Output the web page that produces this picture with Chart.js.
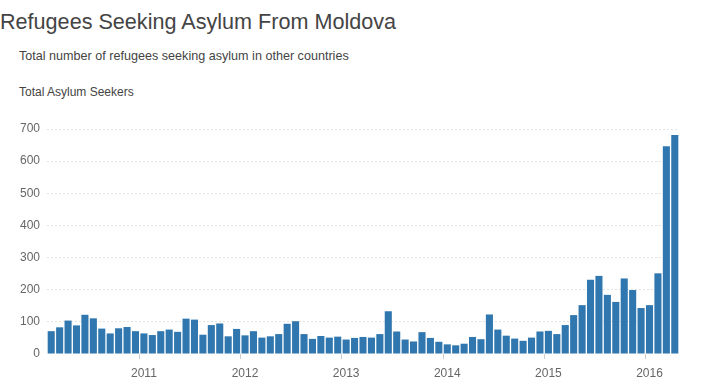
<!DOCTYPE html>
<html>
<head>
<meta charset="utf-8">
<script src="https://cdn.jsdelivr.net/npm/chart.js@4"></script>
<style>
  body { margin: 0; width: 703px; height: 392px; background: #fff; font-family: "Liberation Sans", Arial, sans-serif; position: relative; overflow: hidden; }
  .title { position: absolute; left: 0; top: 9px; font-size: 21.6px; color: #444; white-space: nowrap; }
  .sub { position: absolute; left: 19px; top: 49px; font-size: 12.6px; color: #444; white-space: nowrap; }
  .ylab { position: absolute; left: 19px; top: 85px; font-size: 12px; color: #444; white-space: nowrap; }
  .wrap { position: absolute; left: 0; top: 110px; width: 703px; height: 282px; }
</style>
</head>
<body>
<div class="title">Refugees Seeking Asylum From Moldova</div>
<div class="sub">Total number of refugees seeking asylum in other countries</div>
<div class="ylab">Total Asylum Seekers</div>
<div class="wrap"><canvas id="asylumChart"></canvas></div>
<script>
// Monthly data, Feb 2010 - Apr 2016
const startYear = 2010;
const startMonth = 2;
const seekers = [
  71, 83, 104, 89, 122, 111, 79, 64, 80, 84, 71,
  64, 59, 71, 76, 69, 110, 107, 60, 90, 95, 55, 78,
  58, 71, 51, 55, 62, 94, 102, 62, 47, 56, 51, 54,
  45, 50, 53, 51, 62, 133, 70, 45, 39, 68, 50, 38,
  30, 27, 32, 53, 46, 123, 76, 57, 48, 41, 51, 70,
  72, 62, 90, 121, 152, 231, 243, 184, 162, 235, 199, 143,
  152, 251, 646, 681
];
const yTicks = [0, 100, 200, 300, 400, 500, 600, 700];

// build month labels from start
const months = seekers.map((_, i) => {
  const m = startMonth - 1 + i;
  const y = startYear + Math.floor(m / 12);
  return y + '-' + String(m % 12 + 1).padStart(2, '0');
});
const isYearStart = i => months[i] && months[i].endsWith('-01');

function initChart() {
  const ctx = document.getElementById('asylumChart').getContext('2d');
  new Chart(ctx, {
    type: 'bar',
    data: {
      labels: months,
      datasets: [{
        data: seekers,
        backgroundColor: '#2f77ae',
        categoryPercentage: 1,
        barPercentage: 0.84
      }]
    },
    options: {
      responsive: true,
      maintainAspectRatio: false,
      animation: false,
      layout: { padding: { top: 19, right: 24, bottom: 0, left: 1 } },
      plugins: { legend: { display: false }, tooltip: { enabled: false } },
      scales: {
        x: {
          border: { display: false },
          grid: {
            drawOnChartArea: false,
            drawTicks: true,
            tickLength: 5,
            color: ctx => isYearStart(ctx.index) ? '#cccccc' : 'rgba(0,0,0,0)'
          },
          ticks: {
            autoSkip: false,
            maxRotation: 0,
            padding: 7,
            color: '#666',
            font: { family: 'Liberation Sans', size: 12 },
            callback: (v, i) => isYearStart(i) ? months[i].slice(0, 4) : ''
          },
          afterFit: s => { s.height = 38; }
        },
        y: {
          min: 0,
          max: 700,
          afterBuildTicks: s => { s.ticks = yTicks.map(v => ({ value: v })); },
          grid: {
            drawTicks: false,
            color: ctx => ctx.tick && ctx.tick.value === 0 ? 'rgba(0,0,0,0)' : '#e2e2e2',
            lineWidth: 1
          },
          border: { display: false, dash: [2, 2] },
          ticks: {
            padding: 7,
            color: '#666',
            font: { family: 'Liberation Sans', size: 12 }
          },
          afterFit: s => { s.width = 46; }
        }
      }
    }
  });
}

document.addEventListener('DOMContentLoaded', initChart);
</script>
</body>
</html>
